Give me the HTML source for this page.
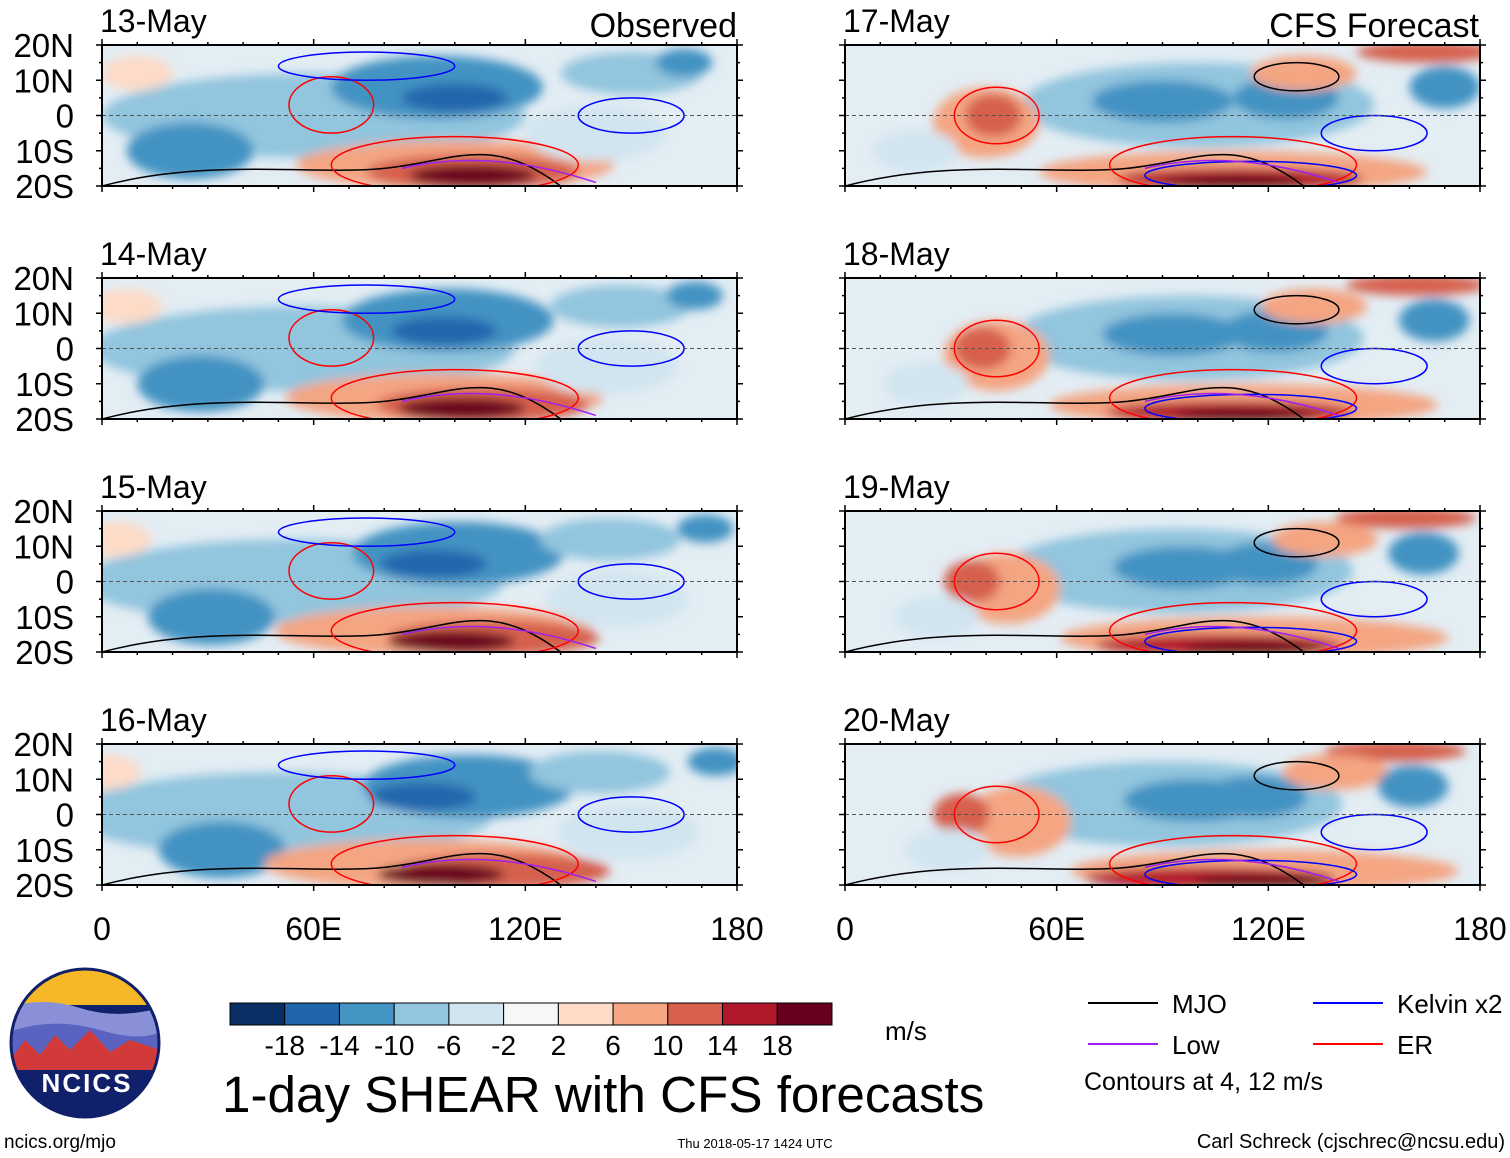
<!DOCTYPE html>
<html><head><meta charset="utf-8">
<style>
body{margin:0;background:#fff;width:1510px;height:1158px;overflow:hidden;font-family:"Liberation Sans",sans-serif}
svg{position:absolute;left:0;top:0}
</style></head>
<body>
<svg id="chart" width="1510" height="1158">
<defs>
<filter id="blur" x="-20%" y="-50%" width="140%" height="200%"><feGaussianBlur stdDeviation="5"/></filter>
<clipPath id="logoClip"><circle cx="85" cy="1043" r="74"/></clipPath>
</defs>
</svg>
<script>
const dates=["13-May","14-May","15-May","16-May","17-May","18-May","19-May","20-May"];
const latTicks=["20N","10N","0","10S","20S"];
const lonTicks=["0","60E","120E","180"];
const levels=[-18,-14,-10,-6,-2,2,6,10,14,18];
const colors=["#0a2f64","#2166ac","#4393c3","#92c5de","#d1e5f0","#f7f7f7","#fddbc7","#f4a582","#d6604d","#b2182b","#67001f"];
// blobs: [lon, lat, rxDeg, ryDeg, colorIndex]
const obsBlobs=[[60,0,60,12,3],[95,8,30,9,2],[100,5,15,4,1],[25,-10,18,8,2],[150,12,20,6,3],[165,15,8,4,2],[100,-14,45,7,7],[105,-16,30,5,8],[105,-17,18,3,10],[140,-5,20,8,4],[10,12,10,5,6]];
const fcBlobs=[[100,3,50,12,3],[90,4,20,6,2],[125,5,15,6,2],[40,-2,15,10,7],[42,0,8,6,8],[110,-16,55,6,7],[112,-18,35,3,9],[110,-19,20,2,10],[165,18,20,3,8],[130,12,15,5,7],[170,8,10,6,2],[20,-10,12,6,4]];
const S="http://www.w3.org/2000/svg";
const svg=document.getElementById('chart');
function mk(t,a,p){const e=document.createElementNS(S,t);for(const k in a)e.setAttribute(k,a[k]);(p||svg).appendChild(e);return e;}
const cols=[102,845],rows=[45,278,511,744],W=635,H=141;
function xs(c,lon){return cols[c]+lon/180*W;}
function ys(r,lat){return rows[r]+(20-lat)/40*H;}
dates.forEach((d,i)=>{
 const c=i<4?0:1,r=i%4;
 const g=mk('g',{});
 
 
 const cid='cp'+i;
 const cp=mk('clipPath',{id:cid},svg.querySelector('defs'));
 mk('rect',{x:cols[c],y:rows[r],width:W,height:H},cp);
 const inner=mk('g',{'clip-path':'url(#'+cid+')'},g);
 mk('rect',{x:cols[c],y:rows[r],width:W,height:H,fill:'#e3edf4'},inner);
 const bg=mk('g',{filter:'url(#blur)'},inner);
 const blobs=c===0?obsBlobs:fcBlobs;
 blobs.forEach((b,j)=>{
  const sh=(r*3*(j%2?1:-1));
  const e=mk('ellipse',{cx:xs(c,b[0]+sh),cy:ys(r,b[1]),rx:b[2]/180*W,ry:b[3]/40*H,fill:colors[b[4]]},bg);
  
  
 });
 const mjo=mk('path',{d:`M${xs(c,0)} ${ys(r,-20)} C${xs(c,30)} ${ys(r,-12)},${xs(c,60)} ${ys(r,-17)},${xs(c,80)} ${ys(r,-15)} S${xs(c,110)} ${ys(r,-5)},${xs(c,130)} ${ys(r,-20)}`,fill:'none',stroke:'#000','stroke-width':1.5},inner);
 
 const er=mk('ellipse',{cx:xs(c,c?110:100),cy:ys(r,-14),rx:35/180*W,ry:8/40*H,fill:'none',stroke:'#f00','stroke-width':1.5},inner);
 
 const er2=mk('ellipse',{cx:xs(c,c?43:65),cy:ys(r,c?0:3),rx:12/180*W,ry:8/40*H,fill:'none',stroke:'#f00','stroke-width':1.5},inner);
 
 const kv=mk('ellipse',{cx:xs(c,150),cy:ys(r,c?-5:0),rx:15/180*W,ry:5/40*H,fill:'none',stroke:'#00f','stroke-width':1.5},inner);
 
 const kv2=mk('ellipse',{cx:xs(c,c?115:75),cy:ys(r,c?-17:14),rx:(c?30:25)/180*W,ry:4/40*H,fill:'none',stroke:'#00f','stroke-width':1.5},inner);
 
 const lw=mk('path',{d:`M${xs(c,85)} ${ys(r,-15)} Q${xs(c,110)} ${ys(r,-9)} ${xs(c,140)} ${ys(r,-19)}`,fill:'none',stroke:'#a020f0','stroke-width':1.5},inner);
 
 if(c===1){const m2=mk('ellipse',{cx:xs(c,128),cy:ys(r,11),rx:12/180*W,ry:4/40*H,fill:'none',stroke:'#000','stroke-width':1.5},inner);
  }
 mk('line',{x1:cols[c],x2:cols[c]+W,y1:ys(r,0),y2:ys(r,0),stroke:'#555','stroke-dasharray':'4,3','stroke-width':1},inner);
 mk('rect',{x:cols[c],y:rows[r],width:W,height:H,fill:'none',stroke:'#000','stroke-width':2},g);
 for(let lon=0;lon<=180;lon+=10){const x=xs(c,lon),L=lon%60===0?6:3;
  mk('line',{x1:x,x2:x,y1:rows[r],y2:rows[r]-L,stroke:'#000','stroke-width':1.5},g);
  mk('line',{x1:x,x2:x,y1:rows[r]+H,y2:rows[r]+H+L,stroke:'#000','stroke-width':1.5},g);}
 for(let lat=-20;lat<=20;lat+=5){const y=ys(r,lat),L=lat%10===0?6:3;
  mk('line',{x1:cols[c],x2:cols[c]-L,y1:y,y2:y,stroke:'#000','stroke-width':1.5},g);
  mk('line',{x1:cols[c]+W,x2:cols[c]+W+L,y1:y,y2:y,stroke:'#000','stroke-width':1.5},g);}
 const t=mk('text',{x:cols[c]-2,y:rows[r]-13,'font-size':32},g);t.textContent=d;
 
 if(c===0){latTicks.forEach((l,k)=>{const tt=mk('text',{x:74,y:ys(r,20-k*10)+12,'font-size':33,'text-anchor':'end'},g);tt.textContent=l;
  });}
});
[['Observed',737],['CFS Forecast',1479]].forEach(([s,x])=>{const t=mk('text',{x:x,y:37,'font-size':34,'text-anchor':'end'});t.textContent=s;
 });
[0,1].forEach(c=>lonTicks.forEach((l,k)=>{const t=mk('text',{x:xs(c,k*60),y:940,'font-size':32,'text-anchor':'middle'});t.textContent=l;
 }));
const cb=mk('g',{});
const bw=(832-230)/colors.length;
colors.forEach((col,k)=>{const r=mk('rect',{x:230+k*bw,y:1003,width:bw,height:22,fill:col,stroke:'#000','stroke-width':1},cb);
 });
levels.forEach((v,k)=>{const t=mk('text',{x:230+(k+1)*bw,y:1055,'font-size':28,'text-anchor':'middle'},cb);t.textContent=v;
 });
function txt(s,x,y,fs,name,anchor){const t=mk('text',{x:x,y:y,'font-size':fs,'text-anchor':anchor||'start'});t.textContent=s;
 return t;}
txt('m/s',885,1040,26,'units-label');
txt('1-day SHEAR with CFS forecasts',222,1112,51.2,'chart-title');
txt('ncics.org/mjo',4,1148,19,'website-link');
txt('Thu 2018-05-17 1424 UTC',755,1148,13,'timestamp','middle');
txt('Carl Schreck (cjschrec@ncsu.edu)',1505,1148,20,'author-credit','end');
[['MJO','#000',1088,1003],['Low','#a020f0',1088,1044],['Kelvin x2','#00f',1313,1003],['ER','#f00',1313,1044]].forEach(([n,col,x,y])=>{
 const l=mk('line',{x1:x,x2:x+70,y1:y,y2:y,stroke:col,'stroke-width':2});
 txt(n,x+84,y+10,26,'legend-entry');});
txt('Contours at 4, 12 m/s',1084,1090,25,'contour-note');
const lg=mk('g',{'clip-path':'url(#logoClip)'});
mk('rect',{x:0,y:960,width:170,height:170,fill:'#10206a'},lg);
mk('rect',{x:0,y:960,width:170,height:45,fill:'#f6b826'},lg);
mk('path',{d:'M0 1010 Q40 995 80 1008 T170 1005 L170 1040 L0 1040Z',fill:'#8a90d8'},lg);
mk('path',{d:'M0 1035 Q50 1015 100 1030 T170 1025 L170 1060 L0 1060Z',fill:'#5a64c0'},lg);
mk('path',{d:'M10 1060 L25 1040 L40 1055 L55 1035 L70 1050 L90 1030 L110 1052 L130 1040 L160 1050 L160 1070 L10 1070Z',fill:'#d23a3a'},lg);
mk('circle',{cx:85,cy:1043,r:74,fill:'none',stroke:'#10206a','stroke-width':3});
const lt=txt('NCICS',87,1092,26,'logo-text','middle');lt.setAttribute('fill','#fff');lt.setAttribute('font-weight','bold');lt.setAttribute('letter-spacing','2');
</script>
</body></html>
